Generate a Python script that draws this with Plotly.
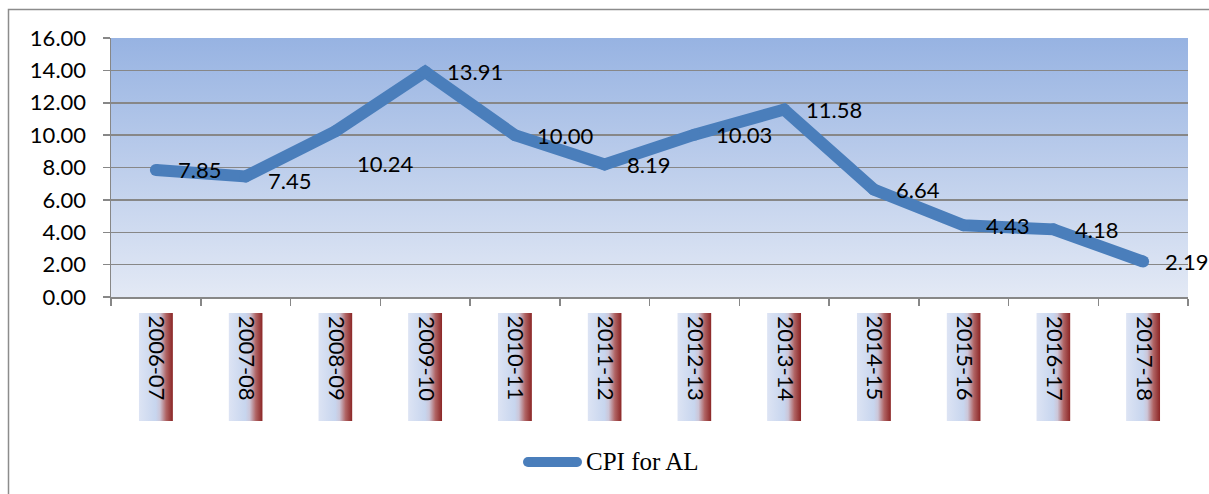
import base64
import plotly.graph_objects as go

categories = ["2006-07", "2007-08", "2008-09", "2009-10", "2010-11", "2011-12",
              "2012-13", "2013-14", "2014-15", "2015-16", "2016-17", "2017-18"]
cpi_values = [7.85, 7.45, 10.24, 13.91, 10.00, 8.19, 10.03, 11.58, 6.64, 4.43, 4.18, 2.19]
series_name = "CPI for AL"
y_ticks = [0, 2, 4, 6, 8, 10, 12, 14, 16]

W, H = 1209, 494
PLOT_L, PLOT_R, PLOT_T, PLOT_B = 111, 1188, 38, 297  # window pixels
ML, MR, MT, MB = PLOT_L, W - PLOT_R, PLOT_T, H - PLOT_B
PW, PH = PLOT_R - PLOT_L, PLOT_B - PLOT_T
LINE_COLOR = "#4A7EBB"
GRID = "#878787"
FONT = "Lato"


def px_x(p):
    return (p - PLOT_L) / PW


def px_y(p):
    return (PLOT_B - p) / PH


def svg_uri(svg):
    return "data:image/svg+xml;base64," + base64.b64encode(svg.encode()).decode()


bg_svg = ('<svg xmlns="http://www.w3.org/2000/svg" width="100" height="100" preserveAspectRatio="none">'
          '<defs><linearGradient id="g" x1="0" y1="0" x2="0" y2="1">'
          '<stop offset="0" stop-color="#97B3E2"/><stop offset="1" stop-color="#E3E9F5"/>'
          '</linearGradient></defs><rect width="100" height="100" fill="url(#g)"/></svg>')
box_svg = ('<svg xmlns="http://www.w3.org/2000/svg" width="100" height="100" preserveAspectRatio="none">'
           '<defs><linearGradient id="g" x1="0" y1="0" x2="1" y2="0">'
           '<stop offset="0" stop-color="#DDE4F4"/><stop offset="0.5" stop-color="#C7D5EE"/>'
           '<stop offset="0.62" stop-color="#CCC6D8"/><stop offset="0.8" stop-color="#B06464"/>'
           '<stop offset="1" stop-color="#8A2424"/>'
           '</linearGradient></defs><rect width="100" height="100" fill="url(#g)"/></svg>')

xs = list(range(len(categories)))

fig = go.Figure()
fig.add_trace(go.Scatter(
    x=xs, y=cpi_values, mode="lines+markers", name=series_name,
    line=dict(color=LINE_COLOR, width=12),
    marker=dict(color=LINE_COLOR, size=12),
    showlegend=False, hoverinfo="skip", cliponaxis=False,
))

images = [dict(source=svg_uri(bg_svg), xref="paper", yref="paper", x=0, y=1,
               sizex=1, sizey=1, xanchor="left", yanchor="top",
               sizing="stretch", layer="below")]
box_half = 0.19
for i, c in enumerate(categories):
    images.append(dict(source=svg_uri(box_svg), xref="x", yref="paper",
                       x=i - box_half, y=px_y(313), sizex=2 * box_half, sizey=108 / PH,
                       xanchor="left", yanchor="top", sizing="stretch", layer="below"))

annotations = []
for i, c in enumerate(categories):
    annotations.append(dict(x=i, xref="x", y=px_y(314), yref="paper", text=c,
                            textangle=90, showarrow=False, xanchor="center", yanchor="top",
                            xshift=2,
                            font=dict(family=FONT, size=22, color="black")))

label_dy = {"2008-09": -32, "2007-08": -4}
for i, (c, v) in enumerate(zip(categories, cpi_values)):
    annotations.append(dict(x=i, xref="x", y=v, yref="y", text=f"{v:.2f}",
                            showarrow=False, xanchor="left", yanchor="middle",
                            xshift=20, yshift=label_dy.get(c, 0),
                            font=dict(family=FONT, size=22, color="black")))

# legend text
annotations.append(dict(x=px_x(584), y=px_y(462), xref="paper", yref="paper",
                        text=series_name, showarrow=False, xanchor="left", yanchor="middle",
                        font=dict(family="Liberation Serif", size=25, color="black")))

shapes = [
    # outer chart border
    dict(type="rect", xref="paper", yref="paper",
         x0=px_x(8.5), x1=px_x(1260), y0=px_y(9.5), y1=px_y(540),
         line=dict(color="#8C8C8C", width=1.5), layer="below"),
    # legend line
    dict(type="line", xref="paper", yref="paper",
         x0=px_x(528), x1=px_x(577), y0=px_y(462), y1=px_y(462),
         line=dict(color=LINE_COLOR, width=10)),
    dict(type="circle", xref="paper", yref="paper",
         x0=px_x(523), x1=px_x(533), y0=px_y(457), y1=px_y(467),
         fillcolor=LINE_COLOR, line=dict(width=0)),
    dict(type="circle", xref="paper", yref="paper",
         x0=px_x(572), x1=px_x(582), y0=px_y(457), y1=px_y(467),
         fillcolor=LINE_COLOR, line=dict(width=0)),
]

fig.update_layout(
    width=W, height=H,
    margin=dict(l=ML, r=MR, t=MT, b=MB, pad=0, autoexpand=False),
    paper_bgcolor="white", plot_bgcolor="rgba(0,0,0,0)",
    showlegend=False,
    images=images, annotations=annotations, shapes=shapes,
    font=dict(family=FONT, size=22, color="black"),
    xaxis=dict(range=[-0.5, len(categories) - 0.5], tickmode="array",
               tickvals=[i - 0.5 for i in range(len(categories) + 1)],
               showticklabels=False, ticks="outside", ticklen=7, tickwidth=1.5,
               tickcolor=GRID, showgrid=False, zeroline=False,
               showline=True, linecolor=GRID, linewidth=1.5, fixedrange=True),
    yaxis=dict(range=[0, 16], tickmode="array", tickvals=y_ticks,
               ticktext=[f"{t:.2f}" for t in y_ticks],
               ticks="outside", ticklen=7, tickwidth=1.5, tickcolor=GRID,
               ticklabelstandoff=12,
               showgrid=True, gridcolor=GRID, gridwidth=1.5, zeroline=False,
               showline=True, linecolor=GRID, linewidth=1.5,
               tickfont=dict(family=FONT, size=22, color="black"), fixedrange=True),
)

fig.write_html(
    "out.html",
    config={"displayModeBar": False, "staticPlot": True},
    post_script="document.documentElement.style.overflow='hidden';"
                "document.body.style.margin='0';document.body.style.overflow='hidden';",
)
